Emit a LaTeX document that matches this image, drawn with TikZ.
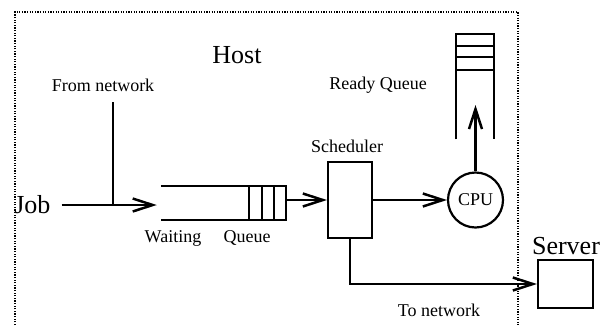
\documentclass[tikz,border=0pt]{standalone}
\usepackage{fontspec}
\setmainfont{Liberation Serif}
\usetikzlibrary{arrows.meta,calc}
\begin{document}
\begin{tikzpicture}[x=1pt,y=-1pt,
  line width=2.5pt,
  lbl/.style={inner sep=0pt,font=\fontsize{18}{20}\selectfont},
  biglbl/.style={inner sep=0pt,font=\fontsize{26}{28}\selectfont},
  arr/.style={-{Straight Barb[length=20pt,width=13pt,line width=2.5pt]}},
  frame/.style={line width=1.2pt,dash pattern=on 1.2pt off 1.4pt},
  boxed/.style={draw,rectangle,inner sep=0pt,line width=2.2pt}]
\useasboundingbox (0,0) rectangle (612,325);

% host boundary (open at the bottom)
\draw[frame] (15,325) -- (15,12) -- (518,12) -- (518,325);

% labels
\node[biglbl] (host) at (237,55) {Host};
\node[lbl] (fromnet) at (103,85) {From network};
\node[biglbl,anchor=west] (job) at (13,205) {Job};
\node[lbl] (waiting) at (173,238) {Waiting};
\node[lbl] (qlabel) at (247,238) {Queue};
\node[lbl] (schedlbl) at (347,146) {Scheduler};
\node[lbl] (readylbl) at (378,85) {Ready Queue};
\node[lbl] (tonet) at (439,310) {To network};
\node[biglbl] (serverlbl) at (566,246) {Server};

% waiting queue: open on the left, three slots on the right
\node[minimum width=123pt,minimum height=32pt,inner sep=0pt] (wq) at (223.5,203) {};
\draw[line width=2.2pt] (wq.north west) -- (wq.north east) -- (wq.south east) -- (wq.south west);
\foreach \dx in {-37,-24,-12}
  \draw[line width=2pt] ([xshift=\dx pt]wq.north east) -- ([xshift=\dx pt]wq.south east);

% scheduler, cpu, server
\node[boxed,minimum width=44pt,minimum height=76pt] (sched) at (350,200) {};
\node[draw,circle,inner sep=0pt,minimum size=55pt,line width=2.2pt,lbl] (cpu) at (475.5,200) {CPU};
\node[boxed,minimum width=55pt,minimum height=48pt] (server) at (565.5,284) {};

% ready queue: open at the bottom, three slots at the top
\node[minimum width=36pt,minimum height=103pt,inner sep=0pt] (rq) at (475,86.5) {};
\draw[line width=2.2pt] (rq.south west) -- (rq.north west) -- (rq.north east) -- (rq.south east);
\foreach \dy in {12,23,36}
  \draw[line width=2.2pt] ([yshift=-\dy pt]rq.north west) -- ([yshift=-\dy pt]rq.north east);
\coordinate (rqin) at (475.5,105);

% connectors
\coordinate (fn) at (113,102);
\draw (fn) -- (fn |- job.east);
\draw[arr,shorten <=10pt,shorten >=4pt] (job.east) -- (wq.west |- job.east);
\draw[arr] (wq.east |- sched.west) -- (sched.west);
\draw[arr] (sched.east |- cpu.west) -- (cpu.west);
\draw[arr] (cpu.north) -- (rqin);
\draw[arr] (sched.south) |- (server.west);
\end{tikzpicture}
\end{document}
